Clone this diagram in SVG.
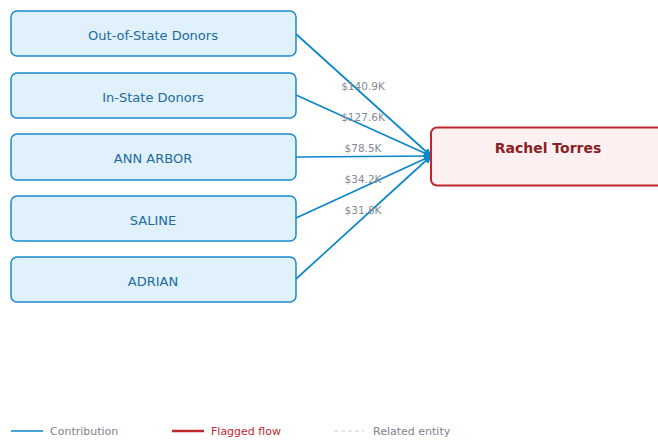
<svg xmlns="http://www.w3.org/2000/svg" width="658" height="441" viewBox="0 0 658 441">
<defs>
<marker id="arr" viewBox="0 0 10 10" refX="9" refY="5" markerWidth="8" markerHeight="8" orient="auto" markerUnits="userSpaceOnUse">
<path d="M0,0 L10,5 L0,10 z" fill="#0b86c9"/>
</marker>
</defs>
<style>
.src rect{fill:#e0f1fc;stroke:#1a8bcb;stroke-width:1.5}
.src text{font-family:"DejaVu Sans",Verdana,sans-serif;font-size:13px;fill:#1b6b9c;text-anchor:middle;dominant-baseline:central}
.edge{stroke:#0b86c9;stroke-width:1.7;fill:none}
.lbl{font-family:"DejaVu Sans",Verdana,sans-serif;font-size:10.5px;fill:#858a92;text-anchor:middle;dominant-baseline:central}
.leg{font-family:"DejaVu Sans",Verdana,sans-serif;font-size:11px;dominant-baseline:central}
</style>
<rect width="658" height="441" fill="#ffffff"/>
<g id="connectors">
<path class="edge" d="M296,34 L431,156" marker-end="url(#arr)"/>
<path class="edge" d="M296,95 L431,156" marker-end="url(#arr)"/>
<path class="edge" d="M296,157 L431,156" marker-end="url(#arr)"/>
<path class="edge" d="M296,218 L431,156" marker-end="url(#arr)"/>
<path class="edge" d="M296,279 L431,156" marker-end="url(#arr)"/>
<text class="lbl" x="363" y="86">$140.9K</text>
<text class="lbl" x="363" y="117">$127.6K</text>
<text class="lbl" x="363" y="148">$78.5K</text>
<text class="lbl" x="363" y="179">$34.2K</text>
<text class="lbl" x="363" y="210">$31.8K</text>
</g>
<g id="node-out-of-state" class="src"><rect x="11" y="11" width="285" height="45" rx="6"/><text x="153" y="35">Out-of-State Donors</text></g>
<g id="node-in-state" class="src"><rect x="11" y="73" width="285" height="45" rx="6"/><text x="153" y="97">In-State Donors</text></g>
<g id="node-ann-arbor" class="src"><rect x="11" y="134" width="285" height="46" rx="6"/><text x="153" y="158">ANN ARBOR</text></g>
<g id="node-saline" class="src"><rect x="11" y="196" width="285" height="45" rx="6"/><text x="153" y="220">SALINE</text></g>
<g id="node-adrian" class="src"><rect x="11" y="257" width="285" height="45" rx="6"/><text x="153" y="281">ADRIAN</text></g>
<g id="node-rachel-torres">
<rect x="431" y="127.5" width="234" height="58" rx="6" fill="#fdf0f0" stroke="#c0272d" stroke-width="2"/>
<text x="548" y="148" font-family="'DejaVu Sans',Verdana,sans-serif" font-size="14px" font-weight="bold" fill="#8a1f24" text-anchor="middle" dominant-baseline="central">Rachel Torres</text>
</g>
<g id="legend">
<line x1="11" y1="431" x2="43" y2="431" stroke="#0b86c9" stroke-width="1.5"/>
<text class="leg" x="50" y="431" fill="#7d838c">Contribution</text>
<line x1="172" y1="431" x2="204" y2="431" stroke="#c0272d" stroke-width="2.5"/>
<text class="leg" x="211" y="431" fill="#c0272d">Flagged flow</text>
<line x1="334" y1="431" x2="364" y2="431" stroke="#c8ccd2" stroke-width="1" stroke-dasharray="4,3"/>
<text class="leg" x="373" y="431" fill="#7d838c">Related entity</text>
</g>
</svg>
